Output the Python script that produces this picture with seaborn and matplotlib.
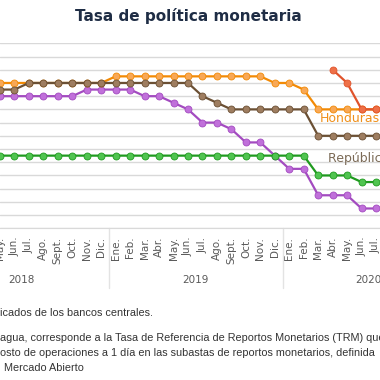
import numpy as np
import matplotlib.pyplot as plt
import seaborn as sns
import pandas as pd

# months May 2018 .. Jul 2020 (index -1 .. 25)
months = ["May.", "Jun.", "Jul.", "Ago.", "Sept.", "Oct.", "Nov.", "Dic.",
          "Ene.", "Feb.", "Mar.", "Abr.", "May.", "Jun.", "Jul.", "Ago.", "Sept.", "Oct.", "Nov.", "Dic.",
          "Ene.", "Feb.", "Mar.", "Abr.", "May.", "Jun.", "Jul."]
years = ["2018", "2019", "2020"]

honduras = [5.5] * 8 + [5.75] * 11 + [5.5, 5.5, 5.25] + [4.5] * 5
dominicana = [5.25, 5.25] + [5.5] * 12 + [5.0, 4.75] + [4.5] * 6 + [3.5] * 5
costa_rica = [5.0] * 6 + [5.25] * 4 + [5.0, 5.0, 4.75, 4.5, 4.0, 4.0, 3.75, 3.25, 3.25, 2.75,
                                       2.25, 2.25, 1.25, 1.25, 1.25, 0.75, 0.75]
guatemala = [2.75] * 22 + [2.0] * 3 + [1.75] * 2
nicaragua = [None] * 23 + [6.0, 5.5, 4.5, 4.5]

x = np.arange(-1, len(months) - 1)

sns.set_style("white")
plt.rcParams['font.family'] = ['DejaVu Sans']

fig = plt.figure(figsize=(3.8, 3.8), dpi=100)
ax = fig.add_axes([0, 0.3992, 1, 0.4868])

series = [
    (costa_rica, "#A34BC0", "#C070DA"),
    (guatemala, "#1F9A1F", "#50C450"),
    (honduras, "#F28A05", "#F8A856"),
    (dominicana, "#6B5034", "#9E7D60"),
    (nicaragua, "#E0532B", "#EE7048"),
]
for vals, col, fill in series:
    df = pd.DataFrame({"x": x, "y": vals}).dropna()
    sns.lineplot(data=df, x="x", y="y", ax=ax, color=col, linewidth=1.6,
                 marker="o", markersize=5, markerfacecolor=fill,
                 markeredgecolor=col, markeredgewidth=0.6, clip_on=False)

ax.set_xlim(-0.3165, 25.273)
ax.set_ylim(0, 7)
ax.set_yticks(np.arange(0, 7.01, 0.5))
ax.yaxis.grid(True, color="#d9d9d9", linewidth=1)
ax.set_yticklabels([])
ax.set_xticks(x)
ax.set_xticklabels(months, rotation=90, fontsize=7.5, color="#595959")
ax.tick_params(axis="both", length=0, pad=6)
ax.tick_params(axis="y", pad=0)
ax.set_xlabel("")
ax.set_ylabel("")
for s in ["top", "right", "left"]:
    ax.spines[s].set_visible(False)
ax.spines["bottom"].set_color("#d9d9d9")

trans = ax.get_xaxis_transform()
for xs in [6.55, 18.55]:
    ax.plot([xs, xs], [0, -0.323], transform=trans, color="#e3e3e3", lw=1, clip_on=False)
for xc, yr in zip([0.5, 12.5, 24.5], years):
    ax.text(xc, -0.279, yr, transform=trans, ha="center", va="center",
            fontsize=7.5, color="#595959", clip_on=False)

ax.text(21.1, 4.17, "Honduras", ha="left", va="center", fontsize=9,
        color="#F0901A", clip_on=False)
ax.text(21.7, 2.65, "República Dominicana", ha="left", va="center", fontsize=9,
        color="#7B6A56", clip_on=False)

fig.text(0.496, 1 - 16 / 380, "Tasa de política monetaria", ha="center", va="center",
         fontsize=11, fontweight="bold", color="#1F2D45")

note_font = ["Liberation Sans", "DejaVu Sans"]
fig.text(0.0, 1 - 313 / 380, "icados de los bancos centrales.", fontsize=7.8,
         color="#333333", va="center", family=note_font)
fig.text(0.0, 1 - 338 / 380,
         "agua, corresponde a la Tasa de Referencia de Reportos Monetarios (TRM) que",
         fontsize=7.8, color="#333333", va="center", family=note_font)
fig.text(0.0, 1 - 353 / 380,
         "osto de operaciones a 1 día en las subastas de reportos monetarios, definida",
         fontsize=7.8, color="#333333", va="center", family=note_font)
fig.text(0.01, 1 - 368 / 380, "Mercado Abierto", fontsize=7.8,
         color="#333333", va="center", family=note_font)

fig.savefig("out.png", dpi=100)
